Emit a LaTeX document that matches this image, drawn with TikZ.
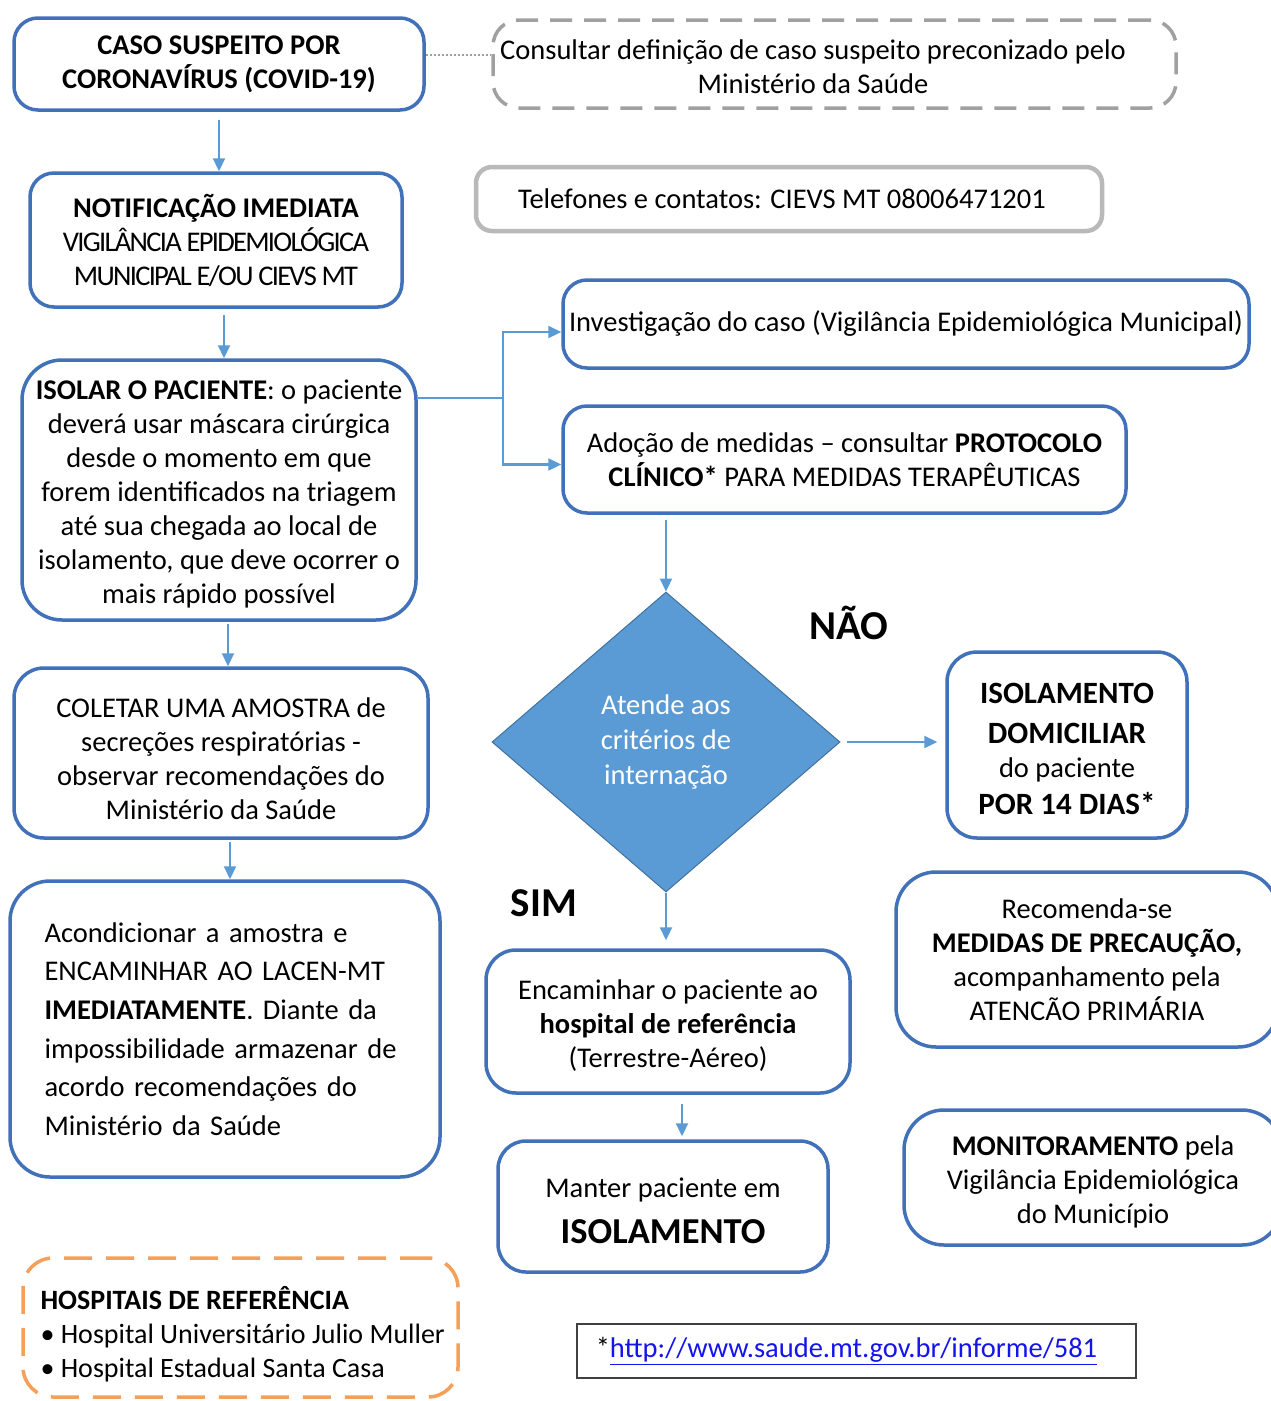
\documentclass[tikz,border=0pt]{standalone}
\usepackage{fontspec}
\setmainfont{Carlito}
\usetikzlibrary{arrows.meta,shapes.geometric,calc}
\definecolor{boxblue}{RGB}{65,113,185}
\definecolor{arrblue}{RGB}{91,155,213}
\definecolor{diafill}{RGB}{91,155,213}
\definecolor{diaedge}{RGB}{65,113,156}
\definecolor{grayln}{RGB}{160,160,160}
\definecolor{orng}{RGB}{245,160,90}
\definecolor{urlblue}{RGB}{20,20,235}
\tikzset{
  bbox/.style={draw=boxblue, line width=3.5pt, rounded corners=24pt, fill=white, inner sep=0pt, align=center},
  arr/.style={draw=arrblue, line width=2.2pt, -{Triangle[length=13pt,width=12pt]}},
  plainline/.style={draw=arrblue, line width=2.2pt},
  dotline/.style={draw=grayln, line width=2pt, dotted},
  lbl/.style={font=\fontsize{41}{44}\selectfont\bfseries},
}
\newcommand{\bigb}[1]{{\fontsize{31}{34}\selectfont\textbf{#1}}}
\newcommand{\lowr}{\rule{0pt}{28pt}}
\begin{document}
\begin{tikzpicture}[x=1pt,y=-1pt,font=\fontsize{28.5}{34}\selectfont]
\useasboundingbox (0,0) rectangle (1270,1401);
\fill[white] (0,0) rectangle (1270,1401);

% boxes
\node[bbox, minimum width=410pt, minimum height=92pt] (caso) at (219,64)
  {\textbf{CASO SUSPEITO POR}\\\textbf{CORONAVÍRUS (COVID-19)}};
\node[draw=grayln, line width=3.5pt, dash pattern=on 22pt off 12pt, rounded corners=26pt,
  minimum width=683pt, minimum height=88pt] (consultar) at (834.5,64) {};
\node[align=center] (consultartxt) at (813,67)
  {Consultar definição de caso suspeito preconizado pelo\\Ministério da Saúde};
\node[draw=gray!55, line width=4.5pt, rounded corners=16pt, minimum width=626pt, minimum height=64pt] (tel) at (789,199)
  {Telefones e contatos: CIEVS MT 08006471201\kern14pt};

\node[bbox, minimum width=372pt, minimum height=134pt] (notif) at (216,240)
  {\textbf{NOTIFICAÇÃO IMEDIATA}\\{\addfontfeatures{LetterSpace=-6}VIGILÂNCIA EPIDEMIOLÓGICA}\\{\addfontfeatures{LetterSpace=-6}MUNICIPAL E/OU CIEVS MT}};

\node[bbox, rounded corners=40pt, minimum width=394pt, minimum height=260pt] (isolar) at (219,490)
  {\lowr\textbf{ISOLAR O PACIENTE}: o paciente\\deverá usar máscara cirúrgica\\desde o momento em que\\forem identificados na triagem\\até sua chegada ao local de\\isolamento, que deve ocorrer o\\mais rápido possível};

\node[bbox, minimum width=686pt, minimum height=88pt] (invest) at (906,324)
  {Investigação do caso (Vigilância Epidemiológica Municipal)};
\node[bbox, minimum width=563pt, minimum height=107pt] (adocao) at (844.5,459.5)
  {Adoção de medidas – consultar \textbf{PROTOCOLO}\\\textbf{CLÍNICO*} PARA MEDIDAS TERAPÊUTICAS};

\node[diamond, fill=diafill, draw=diaedge, line width=1pt, minimum width=348pt, minimum height=300pt,
  inner sep=0pt, text=white, align=center, font=\fontsize{28.5}{35}\selectfont] (dia) at (666,742)
  {Atende aos\\critérios de\\internação};

\node[lbl] (nao) at (849,623) {NÃO};
\node[lbl] (sim) at (544,903) {SIM};

\node[bbox, rounded corners=30pt, minimum width=240pt, minimum height=186pt] (isodom) at (1067,745)
  {\lowr\bigb{ISOLAMENTO}\\[6pt]\bigb{DOMICILIAR}\\do paciente\\[3pt]\bigb{POR 14 DIAS*}};

\node[bbox, rounded corners=30pt, minimum width=364pt, minimum height=143pt] (encam) at (668,1021.5)
  {\lowr Encaminhar o paciente ao\\\textbf{hospital de referência}\\(Terrestre-Aéreo)};

\node[bbox, rounded corners=28pt, minimum width=330pt, minimum height=131pt] (manter) at (663,1206.5)
  {\lowr Manter paciente em\\[12pt]{\fontsize{36.5}{40}\selectfont\textbf{ISOLAMENTO}}};

\node[bbox, rounded corners=40pt, minimum width=382pt, minimum height=175pt] (recom) at (1087,959.5)
  {Recomenda-se\\\textbf{MEDIDAS DE PRECAUÇÃO,}\\acompanhamento pela\\ATENCÃO PRIMÁRIA};

\node[bbox, rounded corners=40pt, minimum width=378pt, minimum height=135pt] (monit) at (1093,1177.5)
  {\lowr\textbf{MONITORAMENTO} pela\\Vigilância Epidemiológica\\do Município};

\node[bbox, rounded corners=30pt, minimum width=414pt, minimum height=170pt] (coletar) at (221,753)
  {\rule{0pt}{31pt}COLETAR UMA AMOSTRA de\\secreções respiratórias -\\observar recomendações do\\Ministério da Saúde};

\node[bbox, rounded corners=40pt, minimum width=430pt, minimum height=296pt, align=left, text width=361pt,
  font=\fontsize{28.5}{38.6}\selectfont] (acond) at (225,1029)
  {\makebox[361pt][s]{Acondicionar a amostra e}\\
   \makebox[361pt][s]{ENCAMINHAR AO LACEN-MT}\\
   \makebox[361pt][s]{\textbf{IMEDIATAMENTE}. Diante da}\\
   \makebox[361pt][s]{impossibilidade armazenar de}\\
   \makebox[361pt][s]{acordo recomendações do}\\
   Ministério da Saúde};

\node[draw=orng, line width=3.5pt, dash pattern=on 28pt off 14pt, rounded corners=30pt,
  minimum width=435pt, minimum height=139pt] (hosp) at (240.5,1327.5) {};
\node[anchor=west, align=left, font=\fontsize{28}{34}\selectfont] (hosptxt) at (37,1334)
  {\textbf{HOSPITAIS DE REFERÊNCIA}\\• Hospital Universitário Julio Muller\\• Hospital Estadual Santa Casa};

\node[draw=black!75, line width=1.5pt, minimum width=559pt, minimum height=54pt] (url) at (856.5,1351)
  {*\textcolor{urlblue}{\underline{http://www.saude.mt.gov.br/informe/581}}\kern20pt};

% connectors
\draw[dotline] ([yshift=9pt]caso.east) -- ([yshift=9pt]consultar.west);
\draw[arr] ([yshift=-8pt]caso.south) -- (caso.south |- notif.north);
\draw[arr] ([xshift=8pt,yshift=-6pt]notif.south) -- ([xshift=8pt]notif.south |- isolar.north);
\coordinate (br) at (503,398);
\draw[plainline] (isolar.east |- br) -- (br);
\draw[arr] (br) |- ([yshift=-8pt]invest.west);
\draw[arr] (br) |- ([yshift=-5pt]adocao.west);
\draw[arr] ([yshift=-5pt]dia.north |- adocao.south) -- (dia.north);
\draw[arr] ([xshift=6pt]dia.east) -- ([xshift=-8pt]isodom.west |- dia.east);
\draw[arr, shorten >=8pt] (dia.south) -- (dia.south |- encam.north);
\draw[arr] ([xshift=14pt,yshift=-9pt]encam.south) -- ([xshift=14pt,yshift=3pt]encam.south |- manter.north);
\draw[arr] ([xshift=9pt,yshift=-2pt]isolar.south) -- ([xshift=9pt]isolar.south |- coletar.north);
\draw[arr] ([xshift=9pt,yshift=-2pt]coletar.south) -- ([xshift=9pt]coletar.south |- acond.north);
\end{tikzpicture}
\end{document}
